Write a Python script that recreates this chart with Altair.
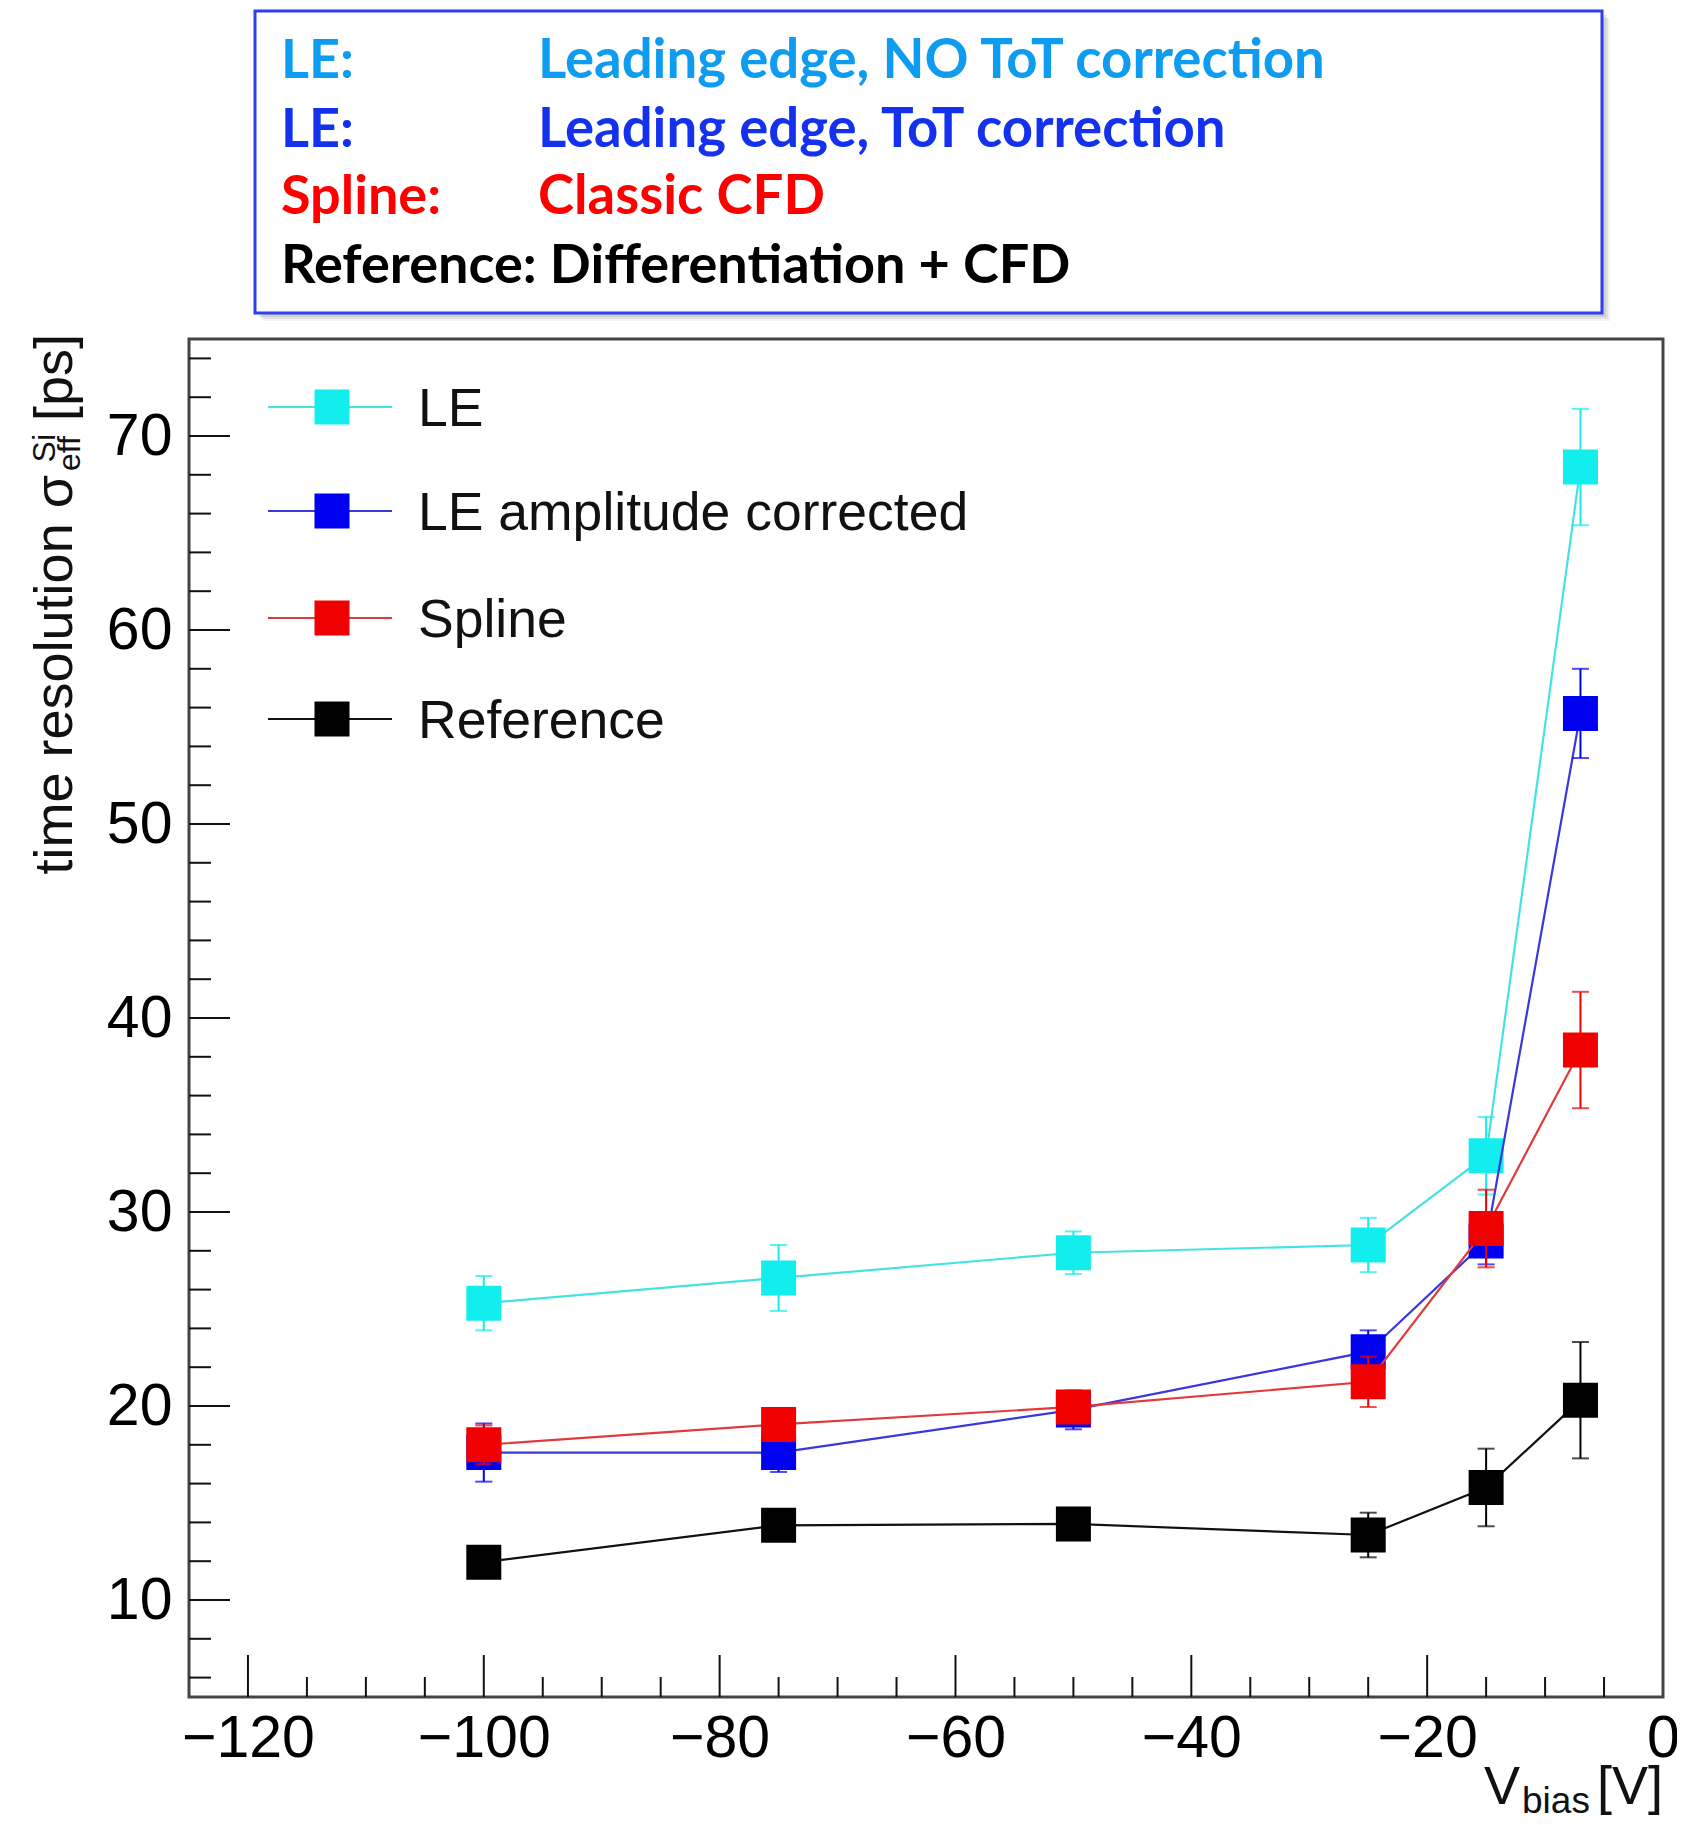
import altair as alt
import pandas as pd

# ---------------- data ----------------
vbias = [-100, -75, -50, -25, -15, -7]
series_names = ["LE", "LE amplitude corrected", "Spline", "Reference"]
le = [25.3, 26.6, 27.9, 28.3, 32.9, 68.4]
le_err = [1.4, 1.7, 1.1, 1.4, 2.0, 3.0]
le_corr = [17.6, 17.6, 19.8, 22.8, 28.5, 55.7]
le_corr_err = [1.5, 1.0, 1.0, 1.1, 1.2, 2.3]
spline = [18.0, 19.05, 19.95, 21.25, 29.15, 38.35]
spline_err = [1.0, 0.8, 0.8, 1.3, 2.0, 3.0]
reference = [11.95, 13.85, 13.92, 13.35, 15.8, 20.3]
reference_err = [0.6, 0.7, 0.7, 1.15, 2.0, 3.0]

x_major = [-120, -100, -80, -60, -40, -20, 0]
x_minor = [-115, -110, -105, -95, -90, -85, -75, -70, -65, -55, -50, -45,
           -35, -30, -25, -15, -10, -5]
y_major = [10, 20, 30, 40, 50, 60, 70]
y_minor = [6, 8, 12, 14, 16, 18, 22, 24, 26, 28, 32, 34, 36, 38, 42, 44, 46, 48,
           52, 54, 56, 58, 62, 64, 66, 68, 72, 74]

header_lines = [
    ("LE:", "Leading edge, NO ToT correction"),
    ("LE:", "Leading edge, ToT correction"),
    ("Spline:", "Classic CFD"),
    ("Reference: Differentiation + CFD", ""),
]

# ---------------- styles ----------------
W, H = 1474, 1358
marker_colors = ["#12EEEE", "#0000F0", "#F00000", "#000000"]
line_colors = ["#45E2E2", "#3838DD", "#E03A3A", "#111111"]
header_colors = ["#0E9CF0", "#1432EE", "#FF0000", "#000000"]
FONT = "Liberation Sans"
HFONT = "Lato"

values = [le, le_corr, spline, reference]
errors = [le_err, le_corr_err, spline_err, reference_err]
rows = []
for name, ys, es in zip(series_names, values, errors):
    for xv, yv, ev in zip(vbias, ys, es):
        rows.append({"series": name, "x": xv, "y": yv, "lo": yv - ev, "hi": yv + ev})
df = pd.DataFrame(rows)

xscale = alt.Scale(domain=[-125, 0], nice=False, zero=False)
yscale = alt.Scale(domain=[5, 75], nice=False, zero=False)
xaxis = alt.Axis(values=x_major, title=None, ticks=False, tickSize=0, domain=False,
                 grid=False, labelFont=FONT, labelFontSize=59, labelColor="#000",
                 labelPadding=12, labelFlush=False, labelOverlap=False, labelBound=False)
yaxis = alt.Axis(values=y_major, title=None, ticks=False, tickSize=0, domain=False,
                 grid=False, labelFont=FONT, labelFontSize=59, labelColor="#000",
                 labelPadding=17, labelFlush=False, labelOverlap=False, labelBound=False)


def X(field):
    return alt.X(field, type="quantitative", scale=xscale, axis=xaxis)


def Y(field):
    return alt.Y(field, type="quantitative", scale=yscale, axis=yaxis)


layers = []

# ---- axis ticks (inward, ROOT style) ----
ym = pd.DataFrame({"v": y_major})
yn = pd.DataFrame({"v": y_minor})
xm = pd.DataFrame({"v": x_major[:-1]})
xn = pd.DataFrame({"v": x_minor})
layers.append(alt.Chart(ym).mark_rule(color="#111", strokeWidth=2).encode(
    y=Y("v"), x=alt.value(0), x2=alt.value(41)))
layers.append(alt.Chart(yn).mark_rule(color="#111", strokeWidth=2).encode(
    y=Y("v"), x=alt.value(0), x2=alt.value(22)))
layers.append(alt.Chart(xm).mark_rule(color="#111", strokeWidth=2).encode(
    x=X("v"), y=alt.value(H), y2=alt.value(H - 42)))
layers.append(alt.Chart(xn).mark_rule(color="#111", strokeWidth=2).encode(
    x=X("v"), y=alt.value(H), y2=alt.value(H - 20)))

# ---- series ----
for i, name in enumerate(series_names):
    base = alt.Chart(df).transform_filter(alt.datum.series == name)
    mc, lc = marker_colors[i], line_colors[i]
    layers.append(base.mark_line(color=lc, strokeWidth=2.2).encode(x=X("x"), y=Y("y")))
    layers.append(base.mark_rule(color=mc, strokeWidth=2).encode(
        x=X("x"), y=Y("lo"), y2=alt.Y2("hi")))
    layers.append(base.mark_tick(orient="horizontal", size=17, thickness=2, color=mc).encode(
        x=X("x"), y=Y("lo")))
    layers.append(base.mark_tick(orient="horizontal", size=17, thickness=2, color=mc).encode(
        x=X("x"), y=Y("hi")))
    layers.append(base.mark_square(size=1225, color=mc, opacity=1, filled=True).encode(
        x=X("x"), y=Y("y")))

# ---- in-plot legend ----
one = pd.DataFrame({"t": [""]})
legend_rows = [68, 172, 279, 380]
for i, name in enumerate(series_names):
    yc = legend_rows[i]
    layers.append(alt.Chart(one).mark_rule(color=line_colors[i], strokeWidth=2.2).encode(
        x=alt.value(79), x2=alt.value(203), y=alt.value(yc)))
    layers.append(alt.Chart(one).mark_square(size=1225, color=marker_colors[i], opacity=1,
                                             filled=True).encode(
        x=alt.value(143), y=alt.value(yc)))
    layers.append(alt.Chart(pd.DataFrame({"t": [name]})).mark_text(
        font=FONT, fontSize=53.5, color="#111", align="left", baseline="alphabetic").encode(
        text="t:N", x=alt.value(229), y=alt.value(yc + 19)))


# ---- axis titles ----
def txt(s, x, y, size, align="left", angle=0, color="#111", font=FONT, weight="normal"):
    kw = dict(font=font, fontSize=size, color=color, align=align, baseline="alphabetic",
              fontWeight=weight)
    if angle:
        kw["angle"] = angle
    return alt.Chart(pd.DataFrame({"t": [s]})).mark_text(**kw).encode(
        text="t:N", x=alt.value(x), y=alt.value(y))


layers.append(txt("V", 1295, 1465, 54))
layers.append(txt("bias", 1333, 1474, 37))
layers.append(txt("[V]", 1474, 1465, 54, align="right"))

layers.append(txt("[ps]", -117, -5, 54, align="right", angle=270))
layers.append(txt("Si", -134, 95, 32, align="right", angle=270))
layers.append(txt("eff", -109, 97, 32, align="right", angle=270))
layers.append(txt("time resolution σ", -117, 136, 54, align="right", angle=270))

# ---- header box ----
for off, op in [(8, 0.10), (6, 0.15), (4, 0.2)]:
    layers.append(alt.Chart(one).mark_rect(color="#888", opacity=op).encode(
        x=alt.value(66 + off), x2=alt.value(1413 + off),
        y=alt.value(-328 + off), y2=alt.value(-26 + off)))
layers.append(alt.Chart(one).mark_rect(fill="white", stroke="#2F3FEA", strokeWidth=3).encode(
    x=alt.value(66), x2=alt.value(1413), y=alt.value(-328), y2=alt.value(-26)))
baselines = [-261, -192, -125, -56]
for (a, b), c, yb in zip(header_lines, header_colors, baselines):
    layers.append(txt(a, 92, yb, 54, color=c, font=HFONT, weight="bold"))
    if b:
        layers.append(txt(b, 349, yb, 54.5, color=c, font=HFONT, weight="bold"))

chart = alt.layer(*layers).properties(
    width=W, height=H,
    padding={"left": 181, "top": 331, "right": 14, "bottom": 120},
    autosize=alt.AutoSizeParams(type="none"),
    background="white",
).configure_view(stroke="#444", strokeWidth=3)

chart.save("out.html", embed_options={"renderer": "svg", "actions": False})
